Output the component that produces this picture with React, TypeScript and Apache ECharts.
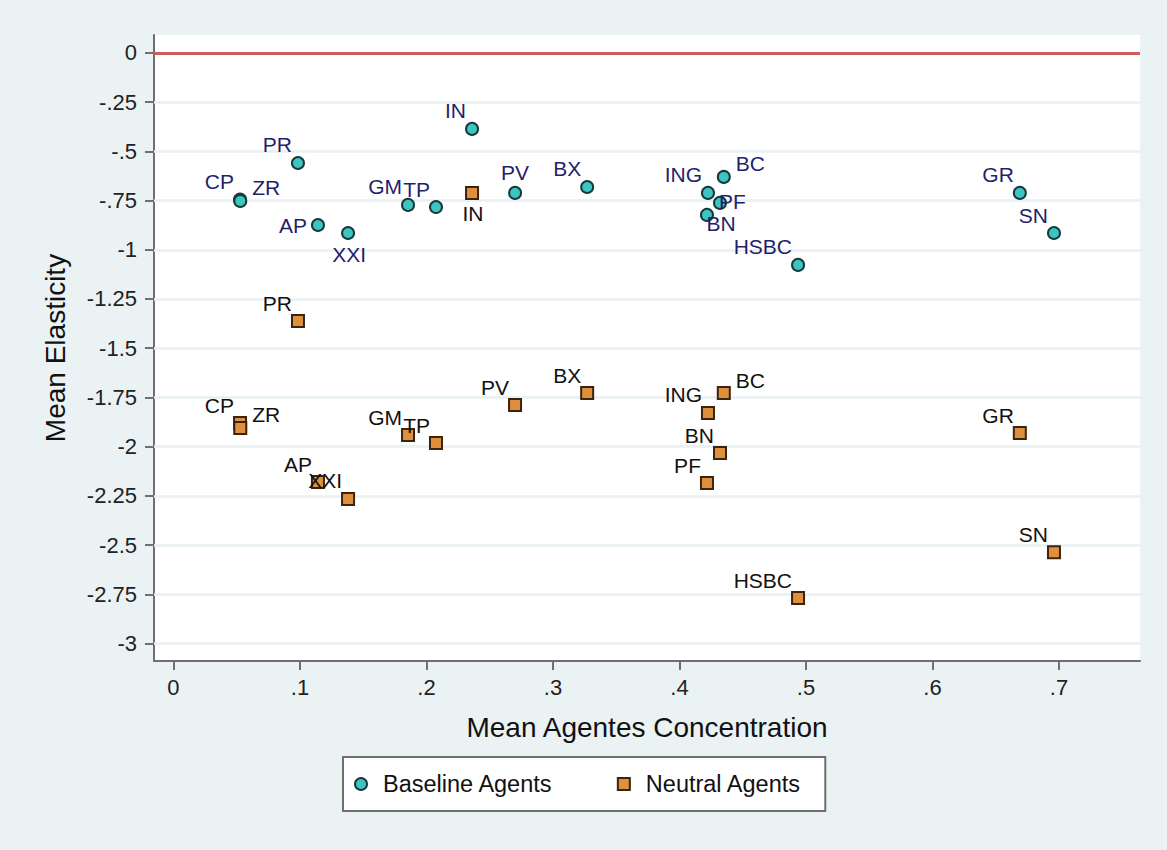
import React, { useEffect, useRef } from "react";
import * as echarts from "echarts";

const firms = ["CP", "ZR", "PR", "AP", "XXI", "GM", "TP", "IN", "PV", "BX", "ING", "BC", "PF", "BN", "HSBC", "GR", "SN"];
const concentration = [0.0526, 0.0528, 0.0984, 0.1142, 0.138, 0.1854, 0.2075, 0.236, 0.27, 0.327, 0.4225, 0.435, 0.4217, 0.432, 0.4937, 0.669, 0.696];
const baselineElasticity = [-0.745, -0.752, -0.559, -0.874, -0.915, -0.772, -0.783, -0.386, -0.711, -0.681, -0.711, -0.63, -0.823, -0.762, -1.077, -0.711, -0.915];
const neutralElasticity = [-1.88, -1.905, -1.362, -2.18, -2.266, -1.941, -1.982, -0.711, -1.789, -1.728, -1.829, -1.728, -2.185, -2.033, -2.769, -1.931, -2.536];
// Stata-style clock positions of the marker labels
const baselineLabelClock = [11, 1, 11, 9, 6, 11, 11, 11, 12, 11, 11, 1, 1, 6, 11, 11, 11];
const neutralLabelClock = [11, 1, 11, 11, 11, 11, 11, 6, 11, 11, 11, 1, 11, 11, 11, 11, 11];

const xTicks = [0, 0.1, 0.2, 0.3, 0.4, 0.5, 0.6, 0.7];
const xTickLabels = ["0", ".1", ".2", ".3", ".4", ".5", ".6", ".7"];
const yTicks = [0, -0.25, -0.5, -0.75, -1, -1.25, -1.5, -1.75, -2, -2.25, -2.5, -2.75, -3];
const yTickLabels = ["0", "-.25", "-.5", "-.75", "-1", "-1.25", "-1.5", "-1.75", "-2", "-2.25", "-2.5", "-2.75", "-3"];
const referenceLine = [0];

const FONT = "Liberation Sans, Arial, Helvetica, sans-serif";
const AXIS_COLOR = "#6f6f6f";

const clockLayout: Record<number, { offset: number[]; align: string }> = {
  11: { offset: [-6, -18], align: "right" },
  12: { offset: [0, -20], align: "center" },
  1: { offset: [12, -13], align: "left" },
  9: { offset: [-11, 1], align: "right" },
  6: { offset: [1, 21], align: "center" },
};

function lookup(ticks: number[], labels: string[], v: number) {
  const i = ticks.findIndex((t) => Math.abs(t - v) < 1e-6);
  return i >= 0 ? labels[i] : "";
}

function buildPoints(values: number[], clocks: number[]) {
  return firms.map((f, i) => {
    const c = clockLayout[clocks[i]];
    return {
      name: f,
      value: [concentration[i], values[i]],
      label: {
        position: "inside",
        align: c.align,
        verticalAlign: "middle",
        offset: c.offset,
      },
    };
  });
}

export default function App() {
  const ref = useRef<HTMLDivElement>(null);
  useEffect(() => {
    if (!ref.current) return;
    const chart = echarts.init(ref.current, undefined, { renderer: "svg" });
    chart.setOption({
      animation: false,
      backgroundColor: "#eaf2f3",
      textStyle: { fontFamily: FONT },
      grid: {
        left: 154,
        right: 27,
        top: 35,
        bottom: 189,
        show: true,
        backgroundColor: "#ffffff",
        borderWidth: 0,
      },
      xAxis: {
        type: "value",
        min: -0.0154,
        max: 0.764,
        name: "Mean Agentes Concentration",
        nameLocation: "middle",
        nameGap: 52,
        nameTextStyle: { fontSize: 28, color: "#111", fontFamily: FONT },
        splitLine: { show: false },
        axisLine: { show: true, onZero: false, lineStyle: { color: AXIS_COLOR, width: 2 } },
        axisTick: { show: true, length: 9, customValues: xTicks, lineStyle: { color: AXIS_COLOR, width: 2 } },
        axisLabel: {
          customValues: xTicks,
          formatter: (v: number) => lookup(xTicks, xTickLabels, v),
          margin: 15,
          fontSize: 22,
          color: "#222",
          fontFamily: FONT,
        },
      },
      yAxis: {
        type: "value",
        min: -3.089,
        max: 0.091,
        name: "Mean Elasticity",
        nameLocation: "middle",
        nameGap: 85,
        nameTextStyle: { fontSize: 28, color: "#111", fontFamily: FONT },
        splitLine: { show: false },
        axisLine: { show: true, onZero: false, lineStyle: { color: AXIS_COLOR, width: 2 } },
        axisTick: { show: true, length: 9, customValues: yTicks, lineStyle: { color: AXIS_COLOR, width: 2 } },
        axisLabel: {
          customValues: yTicks,
          formatter: (v: number) => lookup(yTicks, yTickLabels, v),
          margin: 17,
          fontSize: 22,
          color: "#222",
          fontFamily: FONT,
        },
      },
      legend: {
        data: ["Baseline Agents", "Neutral Agents"],
        left: 343,
        top: 757,
        orient: "horizontal",
        padding: [15, 24, 15, 11],
        itemGap: 64,
        itemWidth: 12,
        itemHeight: 12,
        backgroundColor: "#ffffff",
        borderColor: AXIS_COLOR,
        borderWidth: 2,
        borderRadius: 0,
        selectedMode: false,
        textStyle: { fontSize: 23.5, color: "#111", fontFamily: FONT, padding: [0, 0, 0, 11] },
      },
      series: [
        {
          type: "line",
          name: "grid",
          data: [],
          silent: true,
          markLine: {
            silent: true,
            symbol: ["none", "none"],
            label: { show: false },
            lineStyle: { color: "#e9f0f2", width: 2.5, type: "solid" },
            data: yTicks.filter((v) => !referenceLine.includes(v)).map((v) => ({ yAxis: v })),
          },
        },
        {
          type: "line",
          name: "ref",
          data: [],
          silent: true,
          markLine: {
            silent: true,
            symbol: ["none", "none"],
            label: { show: false },
            lineStyle: { color: "#cf5b5b", width: 3, type: "solid" },
            data: referenceLine.map((v) => ({ yAxis: v })),
          },
        },
        {
          type: "scatter",
          name: "Baseline Agents",
          symbol: "circle",
          symbolSize: 12,
          z: 10,
          silent: true,
          itemStyle: { color: "#3ec5c1", borderColor: "#163a3a", borderWidth: 2, opacity: 1 },
          label: {
            show: true,
            formatter: (p: any) => p.name,
            color: "#1f1f6e",
            fontSize: 21,
            fontFamily: FONT,
          },
          data: buildPoints(baselineElasticity, baselineLabelClock),
        },
        {
          type: "scatter",
          name: "Neutral Agents",
          symbol: "rect",
          symbolSize: 12,
          z: 10,
          silent: true,
          itemStyle: { color: "#e0903c", borderColor: "#3a2410", borderWidth: 2, opacity: 1 },
          label: {
            show: true,
            formatter: (p: any) => p.name,
            color: "#111111",
            fontSize: 21,
            fontFamily: FONT,
          },
          data: buildPoints(neutralElasticity, neutralLabelClock),
        },
      ],
    });
    return () => chart.dispose();
  }, []);
  return (
    <div
      ref={ref}
      style={{ position: "fixed", left: 0, top: 0, width: 1167, height: 850 }}
    />
  );
}
